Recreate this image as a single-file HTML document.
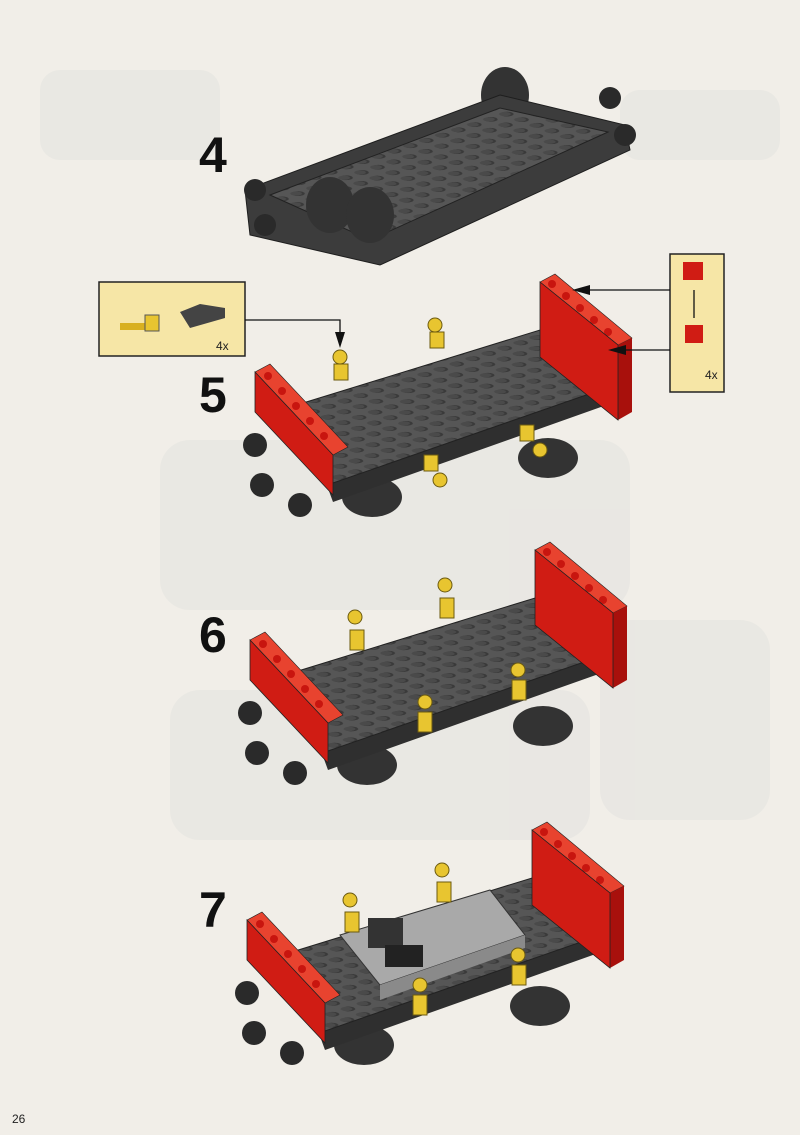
<!DOCTYPE html>
<html><head><meta charset="utf-8"><style>
html,body{margin:0;padding:0}
body{width:800px;height:1135px;background:#f1eee8;overflow:hidden;position:relative;font-family:"Liberation Sans",sans-serif}
.n{position:absolute;font-weight:bold;font-size:50px;color:#111;line-height:1}
</style></head><body>
<svg width="800" height="1135" style="position:absolute;left:0;top:0">
<defs>
<pattern id="st" width="16" height="16" patternUnits="userSpaceOnUse" patternTransform="matrix(1,-0.33,0.95,0.35,0,0)">
<rect width="16" height="16" fill="#565656"/><circle cx="8" cy="8" r="5" fill="#3a3a3a"/><circle cx="7" cy="7" r="4.3" fill="#4a4a4a"/>
</pattern>
<g id="wag">
<ellipse cx="372" cy="497" rx="30" ry="20" fill="#333"/>
<ellipse cx="548" cy="458" rx="30" ry="20" fill="#333"/>
<polygon points="303,403 333,483 615,385 615,402 333,502 303,420" fill="#2f2f2f"/>
<polygon points="303,403 540,330 615,385 333,483" fill="url(#st)" stroke="#222"/>
<polygon points="540,282 555,274 632,338 618,345" fill="#e8432f" stroke="#222" stroke-width="0.6"/>
<g fill="#c8150f"><circle cx="552" cy="284" r="4"/><circle cx="566" cy="296" r="4"/><circle cx="580" cy="308" r="4"/><circle cx="594" cy="320" r="4"/><circle cx="608" cy="332" r="4"/></g>
<polygon points="618,345 632,338 632,412 618,420" fill="#a8100c"/>
<polygon points="540,282 618,345 618,420 540,357" fill="#d01c14" stroke="#222" stroke-width="0.8"/>
<circle cx="255" cy="445" r="12" fill="#2a2a2a"/><circle cx="262" cy="485" r="12" fill="#2a2a2a"/><circle cx="300" cy="505" r="12" fill="#2a2a2a"/>
<polygon points="255,372 270,364 348,447 333,455" fill="#e8432f" stroke="#222" stroke-width="0.6"/>
<g fill="#c8150f"><circle cx="268" cy="376" r="4"/><circle cx="282" cy="391" r="4"/><circle cx="296" cy="406" r="4"/><circle cx="310" cy="421" r="4"/><circle cx="324" cy="436" r="4"/></g>
<polygon points="255,372 333,455 333,495 255,412" fill="#d01c14" stroke="#222" stroke-width="0.8"/>
</g>
</defs>
<g fill="#e4e4e0" opacity="0.6">
<rect x="40" y="70" width="180" height="90" rx="20"/><rect x="620" y="90" width="160" height="70" rx="20"/>
<rect x="160" y="440" width="470" height="170" rx="30"/><rect x="170" y="690" width="420" height="150" rx="30"/>
<rect x="600" y="620" width="170" height="200" rx="30"/>
</g>
<!-- step 4 chassis -->
<ellipse cx="505" cy="95" rx="24" ry="28" fill="#333"/><ellipse cx="550" cy="140" rx="24" ry="28" fill="#333"/>
<polygon points="245,190 500,95 625,125 630,150 380,265 250,235" fill="#3c3c3c" stroke="#1e1e1e"/>
<polygon points="270,195 500,108 608,132 370,240" fill="url(#st)" stroke="#222"/>
<ellipse cx="330" cy="205" rx="24" ry="28" fill="#333"/><ellipse cx="370" cy="215" rx="24" ry="28" fill="#333"/>
<circle cx="255" cy="190" r="11" fill="#2a2a2a"/><circle cx="265" cy="225" r="11" fill="#2a2a2a"/><circle cx="610" cy="98" r="11" fill="#2a2a2a"/><circle cx="625" cy="135" r="11" fill="#2a2a2a"/>
<use href="#wag"/>
<use href="#wag" transform="translate(-5,268)"/>
<use href="#wag" transform="translate(-8,548)"/>
<polygon points="340,935 490,890 525,935 380,985" fill="#a9a9a9" stroke="#333"/>
<polygon points="380,985 525,935 525,948 380,1000" fill="#8a8a8a"/>
<rect x="368" y="918" width="35" height="30" fill="#333"/><rect x="385" y="945" width="38" height="22" fill="#222"/>
<g fill="#e8c530" stroke="#6b5a10" stroke-width="1">
<circle cx="340" cy="357" r="7"/><circle cx="435" cy="325" r="7"/><circle cx="440" cy="480" r="7"/><circle cx="540" cy="450" r="7"/>
<rect x="334" y="364" width="14" height="16"/><rect x="430" y="332" width="14" height="16"/><rect x="424" y="455" width="14" height="16"/><rect x="520" y="425" width="14" height="16"/>
<circle cx="355" cy="617" r="7"/><circle cx="445" cy="585" r="7"/><circle cx="425" cy="702" r="7"/><circle cx="518" cy="670" r="7"/>
<circle cx="350" cy="900" r="7"/><circle cx="442" cy="870" r="7"/><circle cx="420" cy="985" r="7"/><circle cx="518" cy="955" r="7"/>
<rect x="350" y="630" width="14" height="20"/><rect x="440" y="598" width="14" height="20"/><rect x="418" y="712" width="14" height="20"/><rect x="512" y="680" width="14" height="20"/>
<rect x="345" y="912" width="14" height="20"/><rect x="437" y="882" width="14" height="20"/><rect x="413" y="995" width="14" height="20"/><rect x="512" y="965" width="14" height="20"/>
</g>
<!-- callouts -->
<rect x="99" y="282" width="146" height="74" fill="#f6e6a6" stroke="#222" stroke-width="1.5"/>
<rect x="670" y="254" width="54" height="138" fill="#f6e6a6" stroke="#222" stroke-width="1.5"/>
<rect x="120" y="323" width="26" height="7" fill="#d8b020"/><rect x="145" y="315" width="14" height="16" fill="#e8c530" stroke="#555"/>
<polygon points="180,312 200,304 225,308 225,318 190,328" fill="#444"/>
<rect x="683" y="262" width="20" height="18" fill="#d01c14"/><rect x="685" y="325" width="18" height="18" fill="#d01c14"/>
<g stroke="#111" stroke-width="1.3" fill="none">
<polyline points="245,320 340,320 340,342"/><line x1="670" y1="290" x2="585" y2="290"/><line x1="670" y1="350" x2="620" y2="350"/>
<line x1="694" y1="290" x2="694" y2="318"/>
</g>
<g fill="#111"><polygon points="335,332 345,332 340,348"/><polygon points="572,290 590,285 590,295"/><polygon points="608,350 626,345 626,355"/></g>
<text x="216" y="350" font-size="12" font-family="Liberation Sans" fill="#222">4x</text>
<text x="705" y="379" font-size="12" font-family="Liberation Sans" fill="#222">4x</text>
</svg>
<div class="n" style="left:199px;top:130px">4</div>
<div class="n" style="left:199px;top:370px">5</div>
<div class="n" style="left:199px;top:610px">6</div>
<div class="n" style="left:199px;top:885px">7</div>
<div style="position:absolute;left:12px;top:1112px;font-size:12px;color:#222">26</div>
</body></html>
